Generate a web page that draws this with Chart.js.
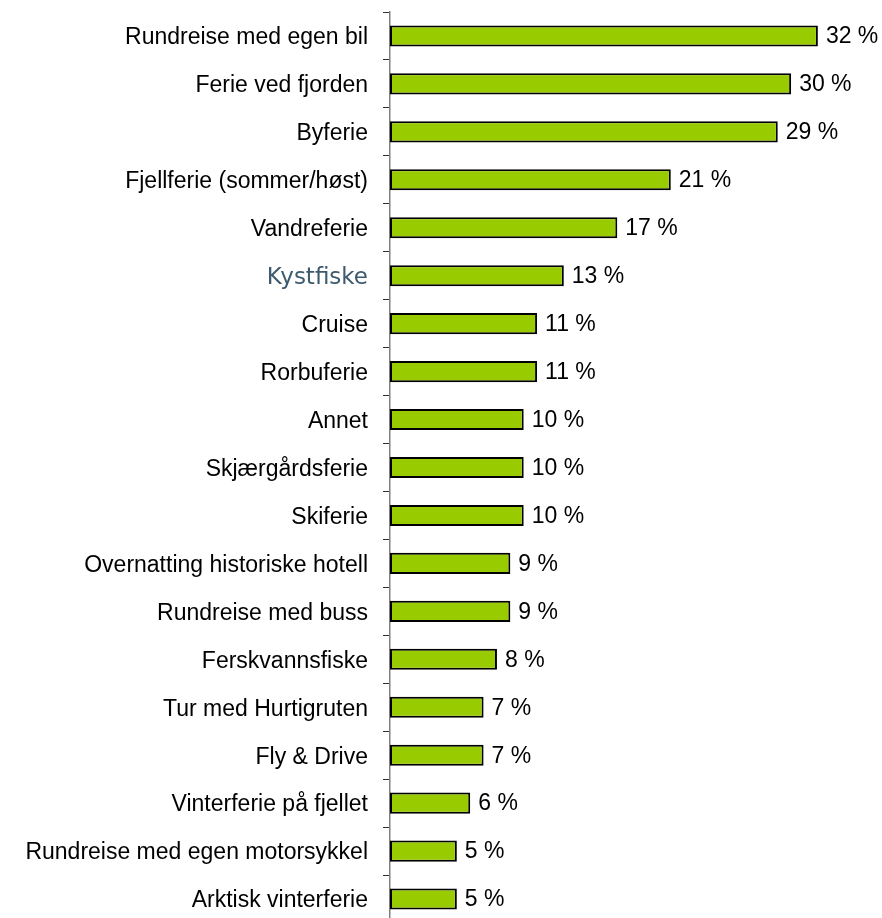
<!DOCTYPE html>
<html>
<head>
<meta charset="utf-8">
<script src="https://cdn.jsdelivr.net/npm/chart.js@4/dist/chart.umd.min.js"></script>
<style>
  body { margin: 0; overflow: hidden; background: #fff; }
  #wrap { width: 882px; height: 933px; }
</style>
</head>
<body>
<div id="wrap"><canvas id="barChart"></canvas></div>
<script>
var categories = [
  "Rundreise med egen bil", "Ferie ved fjorden", "Byferie", "Fjellferie (sommer/høst)",
  "Vandreferie", "Kystfiske", "Cruise", "Rorbuferie", "Annet", "Skjærgårdsferie",
  "Skiferie", "Overnatting historiske hotell", "Rundreise med buss", "Ferskvannsfiske",
  "Tur med Hurtigruten", "Fly & Drive", "Vinterferie på fjellet",
  "Rundreise med egen motorsykkel", "Arktisk vinterferie"
];
var shares = [32, 30, 29, 21, 17, 13, 11, 11, 10, 10, 10, 9, 9, 8, 7, 7, 6, 5, 5];
var highlightIndex = 5;

// draws "32 %" right of each bar
var valueLabels = {
  id: "valueLabels",
  afterDatasetsDraw: function (chart) {
    var c = chart.ctx;
    var meta = chart.getDatasetMeta(0);
    c.save();
    c.font = "23px 'Liberation Sans', Arial, sans-serif";
    c.fillStyle = "#000";
    c.textBaseline = "middle";
    c.textAlign = "left";
    meta.data.forEach(function (bar, i) {
      c.fillText(shares[i] + " %", bar.x + 8, bar.y + 1);
    });
    c.restore();
  }
};

var ctx = document.getElementById("barChart");
var myChart = new Chart(ctx, {
  type: "bar",
  data: {
    labels: categories,
    datasets: [{
      data: shares,
      backgroundColor: "#99cc00",
      borderColor: "#000",
      borderWidth: 2,
      borderSkipped: false,
      categoryPercentage: 1,
      barPercentage: 0.44
    }]
  },
  options: {
    indexAxis: "y",
    responsive: true,
    maintainAspectRatio: false,
    animation: false,
    layout: { padding: { top: 12, bottom: 10, left: 0, right: 24 } },
    plugins: { legend: { display: false }, tooltip: { enabled: false } },
    scales: {
      x: { display: false, min: 0, max: 35 },
      y: {
        afterFit: function (scale) {
          scale.width = 390;
          scale.paddingTop = 0;
          scale.paddingBottom = 0;
        },
        border: { color: "#808080", width: 1.5 },
        grid: { drawOnChartArea: false, tickLength: 7, color: "#333", offset: true },
        ticks: {
          padding: 15,
          labelOffset: 2,
          color: function (c) { return c.index === highlightIndex ? "#3d5a6e" : "#000"; },
          font: function (c) {
            return c.index === highlightIndex
              ? { family: "'DejaVu Sans', Verdana, sans-serif", size: 23 }
              : { family: "'Liberation Sans', Arial, sans-serif", size: 23 };
          }
        }
      }
    }
  },
  plugins: [valueLabels]
});
</script>
</body>
</html>
